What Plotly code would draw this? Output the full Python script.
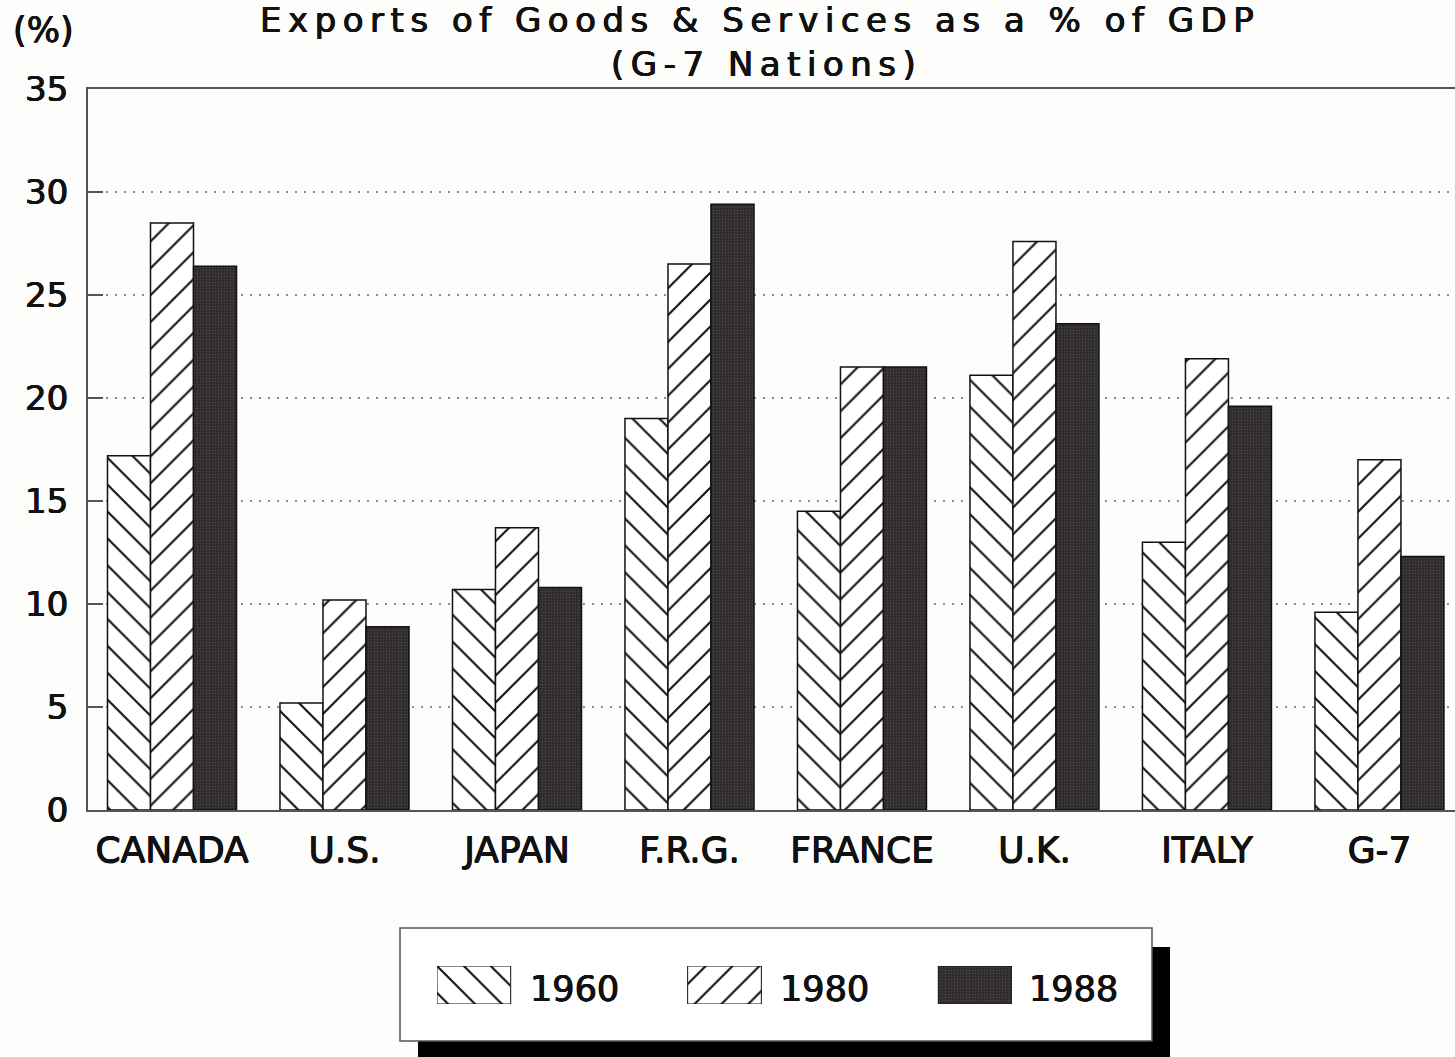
import plotly.graph_objects as go

# Exports of goods & services as a share of GDP, G-7 nations
countries = ["CANADA", "U.S.", "JAPAN", "F.R.G.", "FRANCE", "U.K.", "ITALY", "G-7"]
years = ["1960", "1980", "1988"]
exports_1960 = [17.2, 5.2, 10.7, 19.0, 14.5, 21.1, 13.0, 9.6]
exports_1980 = [28.5, 10.2, 13.7, 26.5, 21.5, 27.6, 21.9, 17.0]
exports_1988 = [26.4, 8.9, 10.8, 29.4, 21.5, 23.6, 19.6, 12.3]
y_ticks = [0, 5, 10, 15, 20, 25, 30, 35]

W, H = 1455, 1057
FONT = "DejaVu Sans, Liberation Sans, Arial, sans-serif"
INK = "#111111"
AXIS = "#555555"
BG = "#fdfdfb"
# slight outline that gives the lettering a heavier, printed look
HEAVY = "0.6px 0 0 #111111, -0.4px 0 0 #111111, 0 0.4px 0 #111111"


def px(x):
    return x / W


def py(y):
    return 1 - y / H


def font(size):
    return dict(family=FONT, size=size, color=INK, shadow=HEAVY)


def pattern(shape):
    if shape == "solid":
        return dict(shape=".", bgcolor="#2c2828", fgcolor="#4a4545",
                    size=3, solidity=0.3, fillmode="replace")
    return dict(shape=shape, bgcolor="white", fgcolor=INK,
                size=19, solidity=0.11, fillmode="replace")


styles = {"1960": "\\", "1980": "/", "1988": "solid"}
series = {"1960": exports_1960, "1980": exports_1980, "1988": exports_1988}

fig = go.Figure()

for yr in years:
    fig.add_trace(go.Bar(
        x=countries, y=series[yr], name=yr,
        marker=dict(color="white", pattern=pattern(styles[yr]),
                    line=dict(color=INK, width=1.5)),
        showlegend=False, hoverinfo="x+y+name",
    ))

# legend swatches drawn on their own small axes
for i, yr in enumerate(years):
    fig.add_trace(go.Bar(
        x=[i], y=[1], width=0.294, xaxis="x2", yaxis="y2",
        marker=dict(color="white", pattern=pattern(styles[yr]),
                    line=dict(color=INK, width=1)),
        showlegend=False, hoverinfo="skip",
    ))

annotations = [
    dict(text='<span style="letter-spacing:6.5px">Exports of Goods &amp; Services as a % of GDP</span>',
         x=px(760), y=py(20), xref="paper", yref="paper",
         xanchor="center", yanchor="middle", showarrow=False, font=font(34)),
    dict(text='<span style="letter-spacing:6.5px">(G-7 Nations)</span>',
         x=px(766), y=py(64), xref="paper", yref="paper",
         xanchor="center", yanchor="middle", showarrow=False, font=font(34)),
    dict(text="(%)", x=px(11), y=py(30), xref="paper", yref="paper",
         xanchor="left", yanchor="middle", showarrow=False, font=font(35)),
]
label_left = [528, 778, 1027]
for yr, lx in zip(years, label_left):
    annotations.append(dict(
        text=yr, x=px(lx), y=py(989), xref="paper", yref="paper",
        xanchor="left", yanchor="middle", showarrow=False, font=font(35)))

shapes = [
    # drop shadow and frame of the legend box
    dict(type="rect", xref="paper", yref="paper",
         x0=px(418), x1=px(1170), y0=py(1070), y1=py(947),
         fillcolor="black", line=dict(width=0), layer="below"),
    dict(type="rect", xref="paper", yref="paper",
         x0=px(400), x1=px(1152), y0=py(1041), y1=py(928),
         fillcolor="white", line=dict(color=AXIS, width=1.5), layer="below"),
]

fig.update_layout(
    width=W, height=H, autosize=False,
    margin=dict(l=0, r=0, t=0, b=0, pad=0),
    paper_bgcolor=BG, plot_bgcolor=BG,
    barmode="group", bargap=0.252, bargroupgap=0,
    font=dict(family=FONT, color=INK),
    xaxis=dict(
        domain=[px(88), 1], range=[-0.487, 7.438], automargin=False,
        showline=True, mirror=True, linecolor=AXIS, linewidth=2,
        ticks="", showgrid=False, zeroline=False,
        tickfont=font(36), ticklabelstandoff=7, fixedrange=True,
    ),
    yaxis=dict(
        domain=[py(810), py(89)], range=[0, 35], automargin=False,
        tickvals=y_ticks, ticks="inside", ticklen=15, tickwidth=2,
        tickcolor=AXIS, showline=True, linecolor=AXIS, linewidth=2,
        showgrid=True, gridcolor="#8a8a8a", gridwidth=1.5, griddash="2px,7px",
        zeroline=False, ticklabelstandoff=11,
        tickfont=font(34), fixedrange=True,
    ),
    xaxis2=dict(domain=[px(437), px(1012)], range=[-0.147, 2.147],
                visible=False, fixedrange=True, anchor="y2", automargin=False),
    yaxis2=dict(domain=[py(1004), py(966)], range=[0, 1],
                visible=False, fixedrange=True, anchor="x2", automargin=False),
    annotations=annotations,
    shapes=shapes,
)

fig.write_html("out.html")
